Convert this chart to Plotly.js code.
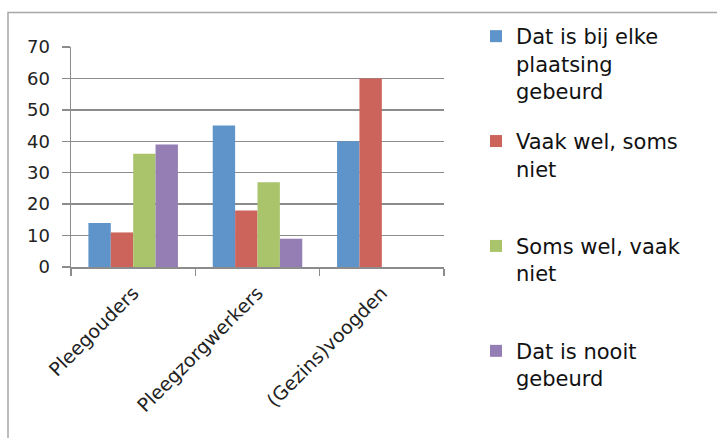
<!DOCTYPE html>
<html>
<head>
<meta charset="utf-8">
<script src="https://cdn.plot.ly/plotly-3.0.1.min.js"></script>
<style>html,body{margin:0;padding:0;background:#fff}#chart{width:717px;height:438px}</style>
</head>
<body>
<div id="chart"></div>
<script>
var categories = ["Pleegouders", "Pleegzorgwerkers", "(Gezins)voogden"];
var seriesNames = ["Dat is bij elke<br>plaatsing<br>gebeurd", "Vaak wel, soms<br>niet<br> ", "Soms wel, vaak<br>niet<br> ", "Dat is nooit<br>gebeurd<br> "];
var elkePlaatsing = [14, 45, 40];
var vaakWel = [11, 18, 60];
var somsWel = [36, 27, null];
var nooit = [39, 9, null];
var seriesColors = ["#5E94CA", "#CD645B", "#A9C46B", "#947EB3"];
var seriesValues = [elkePlaatsing, vaakWel, somsWel, nooit];
var yTicks = [0, 10, 20, 30, 40, 50, 60, 70];

var traces = seriesValues.map(function (vals, i) {
  return {
    type: "bar",
    name: seriesNames[i],
    x: categories,
    y: vals,
    legendgroup: "g" + i,
    marker: {color: seriesColors[i], line: {width: 0}},
    hoverinfo: "y"
  };
});

var L = 71, R = 444, T = 47, B = 267;
var W = R - L, H = B - T;
function px(x) { return (x - L) / W; }
function py(y) { return (B - y) / H; }

var layout = {
  width: 717, height: 438,
  margin: {l: L, r: 717 - R, t: T, b: 438 - B, pad: 0},
  paper_bgcolor: "#fff",
  plot_bgcolor: "#fff",
  font: {family: "DejaVu Sans, sans-serif", color: "#222", size: 16},
  barmode: "group",
  bargap: 0.28,
  bargroupgap: 0,
  showlegend: true,
  legend: {
    xref: "container", yref: "container",
    x: 476 / 717, y: 1 - 16 / 438,
    xanchor: "left", yanchor: "top",
    valign: "top",
    font: {size: 21, color: "#111"},
    tracegroupgap: 20,
    itemwidth: 30,
    maxheight: 430,
    bgcolor: "rgba(0,0,0,0)"
  },
  xaxis: {
    type: "category",
    tickson: "boundaries",
    ticks: "outside",
    ticklen: 7,
    tickcolor: "#8c8c8c",
    tickwidth: 1.5,
    tickangle: -45,
    ticklabelstandoff: 6,
    showline: true,
    linecolor: "#8c8c8c",
    linewidth: 1.5,
    showgrid: false,
    tickfont: {size: 19, color: "#222"},
    fixedrange: true
  },
  yaxis: {
    range: [0, 70],
    tickvals: yTicks,
    ticktext: yTicks.map(String),
    ticks: "outside",
    ticklen: 8,
    tickcolor: "#8c8c8c",
    tickwidth: 1.5,
    ticklabelstandoff: 8,
    showline: true,
    linecolor: "#8c8c8c",
    linewidth: 1.5,
    showgrid: true,
    gridcolor: "#8c8c8c",
    gridwidth: 1.5,
    zeroline: false,
    tickfont: {size: 18, color: "#222"},
    fixedrange: true
  },
  shapes: [
    {type: "rect", xref: "paper", yref: "paper",
     x0: px(8), x1: px(730), y0: py(12.5), y1: py(450),
     line: {color: "#a6a6a6", width: 1.5}, fillcolor: "rgba(0,0,0,0)", layer: "below"}
  ]
};

Plotly.newPlot("chart", traces, layout, {displayModeBar: false, staticPlot: true});
</script>
</body>
</html>
